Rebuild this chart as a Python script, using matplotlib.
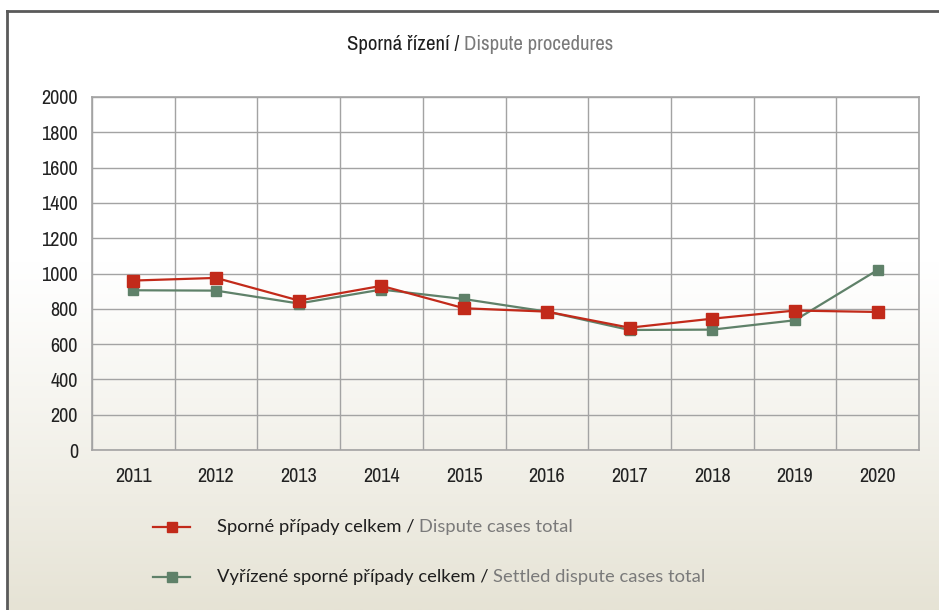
import numpy as np
import matplotlib
matplotlib.use("Agg")
import matplotlib.pyplot as plt
from matplotlib.lines import Line2D

# chart data
years = ["2011", "2012", "2013", "2014", "2015", "2016", "2017", "2018", "2019", "2020"]
dispute_total = [960, 975, 847, 930, 803, 784, 693, 744, 790, 782]
settled_total = [905, 903, 830, 909, 855, 784, 680, 682, 735, 1020]

title_cz = "Sporná řízení"
title_en = "Dispute procedures"
label1_cz = "Sporné případy celkem"
label1_en = "Dispute cases total"
label2_cz = "Vyřízené sporné případy celkem"
label2_en = "Settled dispute cases total"

RED = "#c22a1a"
GREEN = "#5f8169"
GRID = "#a3a3a3"
FONT = ["Archivo Narrow", "Asap Condensed", "DejaVu Sans"]
LEGEND_FONT = ["Lato", "DejaVu Sans"]

plt.rcParams["font.family"] = FONT

fig = plt.figure(figsize=(9.39, 6.10), dpi=100)
W, H = 939.0, 610.0

# background gradient (white on top, beige at bottom)
bg = fig.add_axes([7 / W, 0, 1 - 7 / W, 1 - 11 / H], zorder=-10)
rows = 300
t = np.linspace(0, 1, rows)
top = np.array([1.0, 1.0, 1.0])
bot = np.array([0xe6, 0xe3, 0xd5]) / 255.0
frac = np.clip((t - 0.42) / 0.58, 0, 1)[:, None] ** 1.1
grad = top * (1 - frac) + bot * frac
bg.imshow(grad[:, None, :], aspect="auto", extent=[0, 1, 0, 1])
bg.set_axis_off()

# frame lines top and left
fig.add_artist(Line2D([7 / W, 1], [1 - 11 / H, 1 - 11 / H], color="#5a5a5a", lw=2,
                      transform=fig.transFigure))
fig.add_artist(Line2D([7 / W, 7 / W], [0, 1 - 11 / H], color="#5a5a5a", lw=2,
                      transform=fig.transFigure))

ax = fig.add_axes([92 / W, 1 - 450 / H, (919 - 92) / W, (450 - 97) / H])
ax.set_facecolor("none")
x = np.arange(len(years))
ax.plot(x, settled_total, color=GREEN, lw=1.6, marker="s", ms=7.5, zorder=3)
ax.plot(x, dispute_total, color=RED, lw=1.6, marker="s", ms=8, zorder=4)

ax.set_xlim(-0.5, len(years) - 0.5)
ax.set_ylim(0, 2000)
ax.set_yticks(range(0, 2001, 200))
ax.set_xticks(x)
ax.set_xticklabels(years)
ax.set_xticks(np.arange(-0.5, len(years), 1), minor=True)
ax.grid(True, axis="y", which="major", color=GRID, lw=1)
ax.grid(True, axis="x", which="minor", color=GRID, lw=1)
ax.tick_params(which="both", length=0)
ax.tick_params(axis="y", pad=10, labelsize=14.5, labelcolor="#222222")
ax.tick_params(axis="x", pad=12, labelsize=14.5, labelcolor="#222222")
for s in ax.spines.values():
    s.set_color(GRID)
    s.set_linewidth(1.2)


def two_tone(xpix, ypix, cz, en, size, family):
    t1 = fig.text(xpix / W, 1 - ypix / H, cz + " / ", fontsize=size, color="#1e1e1e",
                  va="center", ha="left", family=family)
    fig.canvas.draw()
    ax.annotate(en, xy=(1, 0), xycoords=t1, fontsize=size, color="#7a7a7a",
                va="bottom", ha="left", annotation_clip=False, family=family)


# title, centred by shifting the first part left by half of the total width
t1 = fig.text(0, 0, title_cz + " / ", fontsize=15, family=FONT)
t2 = fig.text(0, 0, title_en, fontsize=15, family=FONT)
fig.canvas.draw()
r = fig.canvas.get_renderer()
w_total = t1.get_window_extent(r).width + t2.get_window_extent(r).width
t1.remove()
t2.remove()
two_tone(480 - w_total / 2, 45, title_cz, title_en, 15, FONT)

# legend
for ypix, col, cz, en, ms in [(527, RED, label1_cz, label1_en, 7),
                              (577, GREEN, label2_cz, label2_en, 6.5)]:
    fig.add_artist(Line2D([153 / W, 190 / W], [1 - ypix / H] * 2, color=col, lw=1.6,
                          transform=fig.transFigure))
    fig.add_artist(Line2D([171.5 / W], [1 - ypix / H], color=col, marker="s", ms=ms,
                          transform=fig.transFigure))
    two_tone(217, ypix, cz, en, 13.2, LEGEND_FONT)

fig.savefig("out.png", dpi=100)
